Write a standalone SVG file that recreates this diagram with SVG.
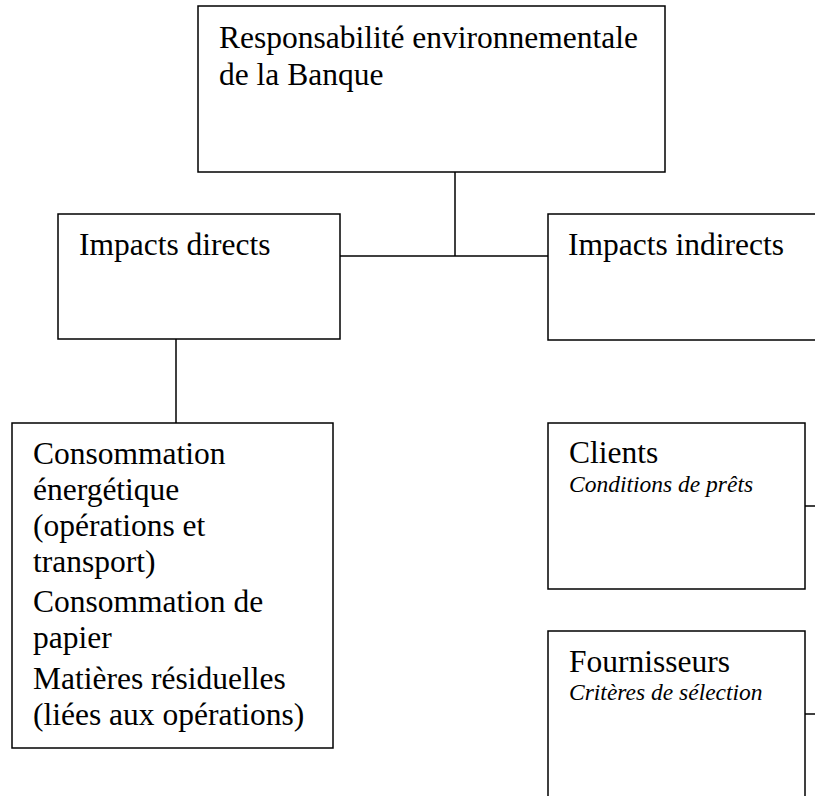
<svg xmlns="http://www.w3.org/2000/svg" width="815" height="796" viewBox="0 0 815 796">
<style>
.box{fill:#fff;stroke:#000;stroke-width:1.5}
.ln{stroke:#000;stroke-width:1.5;fill:none}
text{font-family:"Liberation Serif","Times New Roman",serif;fill:#000}
.t{font-size:31.5px}
.i{font-size:23.5px;font-style:italic}
</style>
<rect width="815" height="796" fill="#fff"/>
<g id="connectors">
<line class="ln" x1="455" y1="172" x2="455" y2="256"/>
<line class="ln" x1="340" y1="256" x2="548" y2="256"/>
<line class="ln" x1="176" y1="339" x2="176" y2="423"/>
<line class="ln" x1="805" y1="506" x2="815" y2="506"/>
<line class="ln" x1="805" y1="714" x2="815" y2="714"/>
</g>
<g id="root">
<rect class="box" x="198" y="6" width="467" height="166"/>
<text class="t" x="219" y="48">Responsabilité environnementale</text>
<text class="t" x="219" y="85">de la Banque</text>
</g>
<g id="direct">
<rect class="box" x="58" y="214" width="282" height="125"/>
<text class="t" x="79" y="255">Impacts directs</text>
</g>
<g id="indirect">
<rect class="box" x="548" y="214" width="280" height="126"/>
<text class="t" x="568" y="255">Impacts indirects</text>
</g>
<g id="direct-items">
<rect class="box" x="12" y="423" width="321" height="325"/>
<text class="t" x="33" y="464">Consommation</text>
<text class="t" x="33" y="500">énergétique</text>
<text class="t" x="33" y="536">(opérations et</text>
<text class="t" x="33" y="572">transport)</text>
<text class="t" x="33" y="612">Consommation de</text>
<text class="t" x="33" y="648">papier</text>
<text class="t" x="33" y="689">Matières résiduelles</text>
<text class="t" x="33" y="725">(liées aux opérations)</text>
</g>
<g id="clients">
<rect class="box" x="548" y="423" width="257" height="166"/>
<text class="t" x="569" y="463">Clients</text>
<text class="i" x="569" y="492">Conditions de prêts</text>
</g>
<g id="fournisseurs">
<rect class="box" x="548" y="631" width="257" height="180"/>
<text class="t" x="569" y="672">Fournisseurs</text>
<text class="i" x="569" y="700">Critères de sélection</text>
</g>
</svg>
